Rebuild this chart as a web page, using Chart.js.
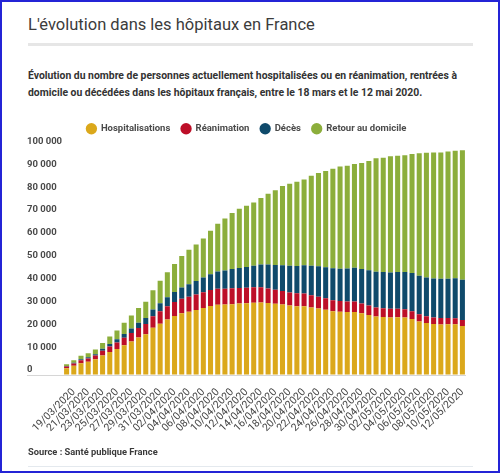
<!DOCTYPE html>
<html lang="fr">
<head>
<meta charset="utf-8">
<title>L'évolution dans les hôpitaux en France</title>
<script src="https://cdn.jsdelivr.net/npm/chart.js@4.4.1/dist/chart.umd.min.js"></script>
<style>
  html, body { margin: 0; padding: 0; background: #fff; }
  body { width: 500px; height: 473px; position: relative; overflow: hidden; font-family: Roboto, sans-serif; }
  #frame { position: absolute; left: 0; top: 0; width: 500px; height: 473px; box-sizing: border-box; border: 2px solid #2424d6; pointer-events: none; z-index: 5; }
  #chartBox { position: absolute; left: 0; top: 0; width: 500px; height: 473px; }
  h1 { position: absolute; left: 28px; top: 15px; margin: 0; font-size: 16.5px; line-height: 20px; font-weight: 400; color: #3c3c3c; white-space: nowrap; }
  .rule { position: absolute; left: 28px; top: 43px; width: 445px; height: 3px; background: #e6e6e6; }
  .sub { position: absolute; left: 28px; top: 67px; margin: 0; font-size: 10.4px; line-height: 17px; font-weight: 700; color: #333; white-space: nowrap; }
  .source { position: absolute; left: 28px; top: 446px; margin: 0; font-size: 9.3px; line-height: 12px; font-weight: 700; color: #3a3a3a; white-space: nowrap; }
  .rule2 { position: absolute; left: 28px; top: 466px; width: 445px; height: 1px; background: #e4e9ee; }
</style>
</head>
<body>
<h1>L'évolution dans les hôpitaux en France</h1>
<div class="rule"></div>
<p class="sub">Évolution du nombre de personnes actuellement hospitalisées ou en réanimation, rentrées à<br>domicile ou décédées dans les hôpitaux français, entre le 18 mars et le 12 mai 2020.</p>
<div id="chartBox"><canvas id="chartHopitaux"></canvas></div>
<p class="source">Source : Santé publique France</p>
<div class="rule2"></div>
<div id="frame"></div>

<script>
// Dates (one bar per day, 18/03 -> 12/05)
const dates = [
    '18/03/2020', '19/03/2020', '20/03/2020', '21/03/2020', '22/03/2020', '23/03/2020', '24/03/2020',
    '25/03/2020', '26/03/2020', '27/03/2020', '28/03/2020', '29/03/2020', '30/03/2020', '31/03/2020',
    '01/04/2020', '02/04/2020', '03/04/2020', '04/04/2020', '05/04/2020', '06/04/2020', '07/04/2020',
    '08/04/2020', '09/04/2020', '10/04/2020', '11/04/2020', '12/04/2020', '13/04/2020', '14/04/2020',
    '15/04/2020', '16/04/2020', '17/04/2020', '18/04/2020', '19/04/2020', '20/04/2020', '21/04/2020',
    '22/04/2020', '23/04/2020', '24/04/2020', '25/04/2020', '26/04/2020', '27/04/2020', '28/04/2020',
    '29/04/2020', '30/04/2020', '01/05/2020', '02/05/2020', '03/05/2020', '04/05/2020', '05/05/2020',
    '06/05/2020', '07/05/2020', '08/05/2020', '09/05/2020', '10/05/2020', '11/05/2020', '12/05/2020'
];

// Values
const hospitalisations = [
    2930, 4010, 5150, 5810, 6850, 8540, 10020, 11370, 12990, 14710,
    16380, 17810, 20630, 22420, 24270, 25850, 27020, 27720, 28460, 29330,
    30180, 30750, 30800, 30980, 31240, 31440, 31660, 31760, 31510, 31140,
    30810, 30380, 30130, 30100, 29550, 29090, 28560, 27930, 27720, 27550,
    27600, 27020, 26290, 25590, 25410, 25180, 25240, 25140, 24540, 23440,
    22800, 22350, 22130, 22200, 22200, 21480
];
const reanimation = [
    760, 990, 1280, 1430, 1650, 2050, 2470, 2890, 3300, 3700,
    4170, 4520, 5030, 5480, 5780, 6070, 6300, 6540, 6740, 6900,
    6970, 7040, 6980, 6970, 6780, 6740, 6700, 6630, 6340, 6150,
    5940, 5750, 5660, 5600, 5350, 5140, 4980, 4800, 4650, 4610,
    4540, 4320, 4140, 3960, 3820, 3770, 3760, 3640, 3380, 3100,
    2920, 2820, 2770, 2730, 2670, 2540
];
const deces = [
    210, 320, 440, 520, 620, 850, 1080, 1370, 1670, 1970,
    2280, 2570, 2980, 3470, 3970, 4440, 5010, 5450, 5970, 6400,
    6980, 7520, 7920, 8470, 8810, 9110, 9440, 9980, 10480, 10890,
    11310, 11660, 11890, 12330, 12860, 13390, 13640, 14020, 14170, 14410,
    14760, 15090, 15380, 15630, 15820, 15930, 16060, 16340, 16670, 16900,
    17000, 17060, 17170, 17220, 17480, 17660
];
const retourDomicile = [
    800, 1160, 1560, 1780, 2090, 2530, 3230, 3840, 4870, 5620,
    6520, 7120, 8470, 9860, 10930, 12220, 13800, 15130, 15980, 17070,
    19030, 20910, 22820, 24530, 25940, 26780, 27730, 29130, 31020, 32620,
    34640, 35910, 36920, 37570, 39440, 40780, 42120, 43550, 44760, 45030,
    45400, 46370, 47890, 49720, 50050, 50820, 50850, 51080, 52110, 53560,
    54580, 55170, 55330, 55650, 55750, 56720
];

const yMax = 100000;
const yStep = 10000;

function formatNombre(v) {
    return String(v).replace(/\B(?=(\d{3})+(?!\d))/g, ' ');
}

// a bit more room under the legend
const legendGap = {
    id: 'legendGap',
    beforeInit(chart) {
        const fitLegend = chart.legend.fit;
        chart.legend.fit = function fit() {
            fitLegend.bind(chart.legend)();
            this.height += 3;
        };
    }
};

Chart.defaults.font.family = 'Roboto, sans-serif';
Chart.defaults.color = '#444';

const ctx = document.getElementById('chartHopitaux');
new Chart(ctx, {
    type: 'bar',
    data: {
        labels: dates,
        datasets: [
            { label: 'Hospitalisations', data: hospitalisations, backgroundColor: '#dba81b' },
            { label: 'Réanimation', data: reanimation, backgroundColor: '#bd0f28' },
            { label: 'Décès', data: deces, backgroundColor: '#0f4a6b' },
            { label: 'Retour au domicile', data: retourDomicile, backgroundColor: '#8cae3b' }
        ]
    },
    options: {
        responsive: true,
        maintainAspectRatio: false,
        animation: false,
        datasets: {
            bar: { barPercentage: 0.7, categoryPercentage: 1.0, borderWidth: 0 }
        },
        layout: {
            padding: { left: 27, right: 34, top: 113, bottom: 36 }
        },
        plugins: {
            tooltip: { enabled: false },
            legend: {
                position: 'top',
                labels: {
                    usePointStyle: true,
                    pointStyle: 'circle',
                    boxWidth: 10,
                    boxHeight: 8,
                    padding: 11,
                    color: '#4a4a4a',
                    font: { size: 9.5, weight: 'bold' }
                }
            }
        },
        scales: {
            x: {
                stacked: true,
                grid: { display: false },
                border: { display: false },
                afterFit(scale) { scale.height = 62; },
                ticks: {
                    autoSkip: false,
                    minRotation: 45,
                    maxRotation: 45,
                    padding: 3,
                    color: '#444',
                    font: { size: 10.5 },
                    callback(value, index) {
                        return index % 2 === 1 ? dates[index] : '';
                    }
                }
            },
            y: {
                stacked: true,
                min: 0,
                max: yMax,
                border: { display: false },
                afterFit(scale) { scale.width = 36; },
                grid: {
                    drawTicks: true,
                    tickLength: 36,
                    color(c) { return c.tick && c.tick.value === 0 ? '#d6d6d6' : 'rgba(0,0,0,0)'; }
                },
                ticks: {
                    stepSize: yStep,
                    crossAlign: 'far',
                    labelOffset: -5,
                    color: '#4a4a4a',
                    font: { size: 9.5, weight: 'bold' },
                    callback(value) { return formatNombre(value); }
                }
            }
        }
    },
    plugins: [legendGap]
});
</script>
</body>
</html>
